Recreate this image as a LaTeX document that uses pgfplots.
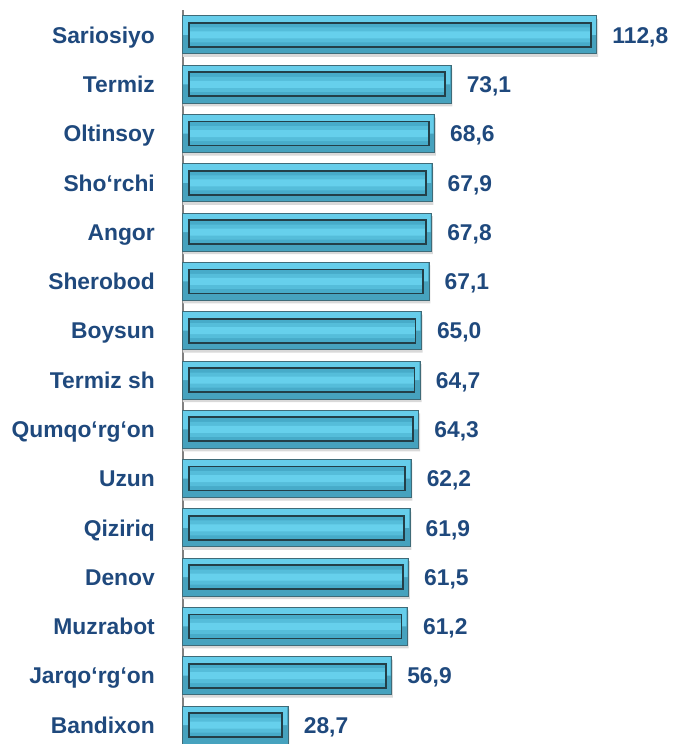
\documentclass[border=0pt]{standalone}
\usepackage{fontspec}
\setmainfont{Liberation Sans}
\usepackage{pgfplots}
\usepackage{pgfplotstable}
\pgfplotsset{compat=1.18}

\definecolor{lblue}{HTML}{1F497D}
\definecolor{outertop}{HTML}{66CDEA}
\definecolor{outerbot}{HTML}{46A2BE}
\definecolor{outerdraw}{HTML}{3F6B78}
\definecolor{innerbase}{HTML}{47ABC9}
\definecolor{innerband}{HTML}{55BDDA}
\definecolor{innermid}{HTML}{66D0EC}
\definecolor{innerdraw}{HTML}{233F48}

\pgfplotstableread[col sep=comma]{
idx,name,v
0,Sariosiyo,112.8
1,Termiz,73.1
2,Oltinsoy,68.6
3,Sho‘rchi,67.9
4,Angor,67.8
5,Sherobod,67.1
6,Boysun,65.0
7,Termiz sh,64.7
8,Qumqo‘rg‘on,64.3
9,Uzun,62.2
10,Qiziriq,61.9
11,Denov,61.5
12,Muzrabot,61.2
13,Jarqo‘rg‘on,56.9
14,Bandixon,28.7
}\data

\begin{document}
\begin{tikzpicture}
\pgfplotsset{base/.style={
    scale only axis, width=491bp, height=734bp,
    xmin=0, xmax=133.8, ymin=-0.507, ymax=14.385,
    y dir=reverse, clip=false, xbar, point meta=x}}
\newcommand\lblfont{\fontsize{22.9}{26}\selectfont\bfseries}
% outer bars
\begin{axis}[base,
    axis x line=none, axis y line*=left,
    y axis line style={draw=gray, line width=1.5bp, -},
    ytick={0,...,14},
    yticklabels from table={\data}{name},
    major tick length=0pt,
    yticklabel style={font=\lblfont, text=lblue,
        anchor=base east, inner sep=0pt, xshift=-28bp, yshift=-8.2bp},
]
\addplot[bar width=38bp, bar shift=-3bp, fill=black!15, draw=none]
    table[x expr=\thisrow{v}+0.3, y=idx]{\data};
\addplot[bar width=38bp, bar shift=0pt, fill=outerbot, draw=none]
    table[x=v, y=idx]{\data};
\addplot[bar width=19bp, bar shift=9.5bp, fill=outertop, draw=none]
    table[x expr=\thisrow{v}-0.3, y=idx]{\data};
\addplot[bar width=38bp, bar shift=0pt, fill=none, draw=outerdraw, line width=1bp,
    nodes near coords={\pgfmathprintnumber[fixed, fixed zerofill, precision=1,
        use comma, assume math mode=true]{\pgfplotspointmeta}},
    nodes near coords style={font=\lblfont, text=lblue,
        anchor=base west, inner sep=0pt, xshift=15bp, yshift=-8.2bp}]
    table[x=v, y=idx]{\data};
\coordinate (tl) at (axis description cs:0,1);
\coordinate (br) at (axis description cs:1,0);
\end{axis}
% inner bevel panels
\begin{axis}[base, hide axis, xshift=6bp]
\addplot[bar width=24bp, bar shift=0pt, fill=innerbase, draw=none]
    table[x expr=\thisrow{v}-3.27, y=idx]{\data};
\addplot[bar width=15bp, bar shift=0pt, fill=innerband, draw=none]
    table[x expr=\thisrow{v}-3.27, y=idx]{\data};
\addplot[bar width=7bp, bar shift=0pt, fill=innermid, draw=none]
    table[x expr=\thisrow{v}-3.27, y=idx]{\data};
\addplot[bar width=24bp, bar shift=0pt, fill=none, draw=innerdraw, line width=1.8bp]
    table[x expr=\thisrow{v}-3.27, y=idx]{\data};
\end{axis}

\pgfresetboundingbox
\path[use as bounding box] ([xshift=-183bp,yshift=10bp]tl) rectangle (br);
\end{tikzpicture}
\end{document}
